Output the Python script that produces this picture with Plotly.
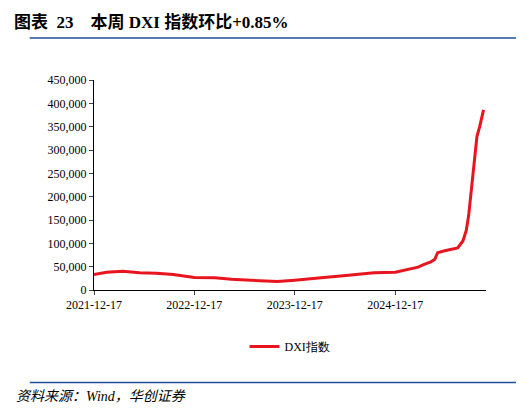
import plotly.graph_objects as go

dates = ["2021-12-17", "2022-02-01", "2022-04-01", "2022-06-01", "2022-08-01", "2022-10-01",
         "2022-12-17", "2023-03-01", "2023-05-01", "2023-07-01", "2023-09-01", "2023-10-15",
         "2023-12-17", "2024-02-01", "2024-04-01", "2024-06-01", "2024-08-01", "2024-10-01",
         "2024-12-17", "2025-01-20", "2025-02-20", "2025-03-10", "2025-04-01", "2025-04-25",
         "2025-05-10", "2025-05-20", "2025-06-15", "2025-07-10", "2025-08-01", "2025-08-20",
         "2025-09-01", "2025-09-10", "2025-09-20", "2025-10-01", "2025-10-10", "2025-10-20",
         "2025-10-28", "2025-11-03"]
dxi = [33000, 38000, 40000, 37000, 36000, 33000,
       27000, 26000, 23000, 21000, 19000, 18000,
       21000, 24000, 27000, 30000, 34000, 37000,
       38000, 42000, 46000, 49000, 55000, 60000,
       66000, 80000, 84000, 88000, 90000, 105000,
       127000, 160000, 215000, 276000, 329000, 350000,
       375000, 386000]

fig = go.Figure()
fig.add_trace(go.Scatter(x=dates, y=dxi, mode="lines", name="DXI指数",
                         line=dict(color="#e8141e", width=3)))

fig.update_layout(
    width=524, height=419, paper_bgcolor="white", plot_bgcolor="white",
    margin=dict(l=86, r=46, t=72, b=137),
    font=dict(family="Times New Roman, Liberation Serif, serif", size=12, color="black"),
    showlegend=True,
    legend=dict(orientation="h", x=0.5, xanchor="center", y=-0.2, yanchor="top",
                font=dict(size=12)),
    xaxis=dict(type="date", range=["2021-12-17", "2025-11-12"],
               tickvals=["2021-12-17", "2022-12-17", "2023-12-17", "2024-12-17"],
               ticktext=["2021-12-17", "2022-12-17", "2023-12-17", "2024-12-17"],
               showline=True, linecolor="black", ticks="outside", ticklen=4,
               showgrid=False),
    yaxis=dict(range=[0, 450000], dtick=50000, tickformat=",", showgrid=False,
               showline=True, linecolor="black", ticks="outside", ticklen=4),
)
fig.add_annotation(text="<b>图表  23    本周 DXI 指数环比+0.85%</b>", xref="paper", yref="paper",
                   x=0, y=1, xanchor="left", yanchor="top", showarrow=False,
                   font=dict(size=17, family="Liberation Serif, Noto Sans CJK SC"),
                   xshift=-82, yshift=69)
fig.add_shape(type="line", xref="paper", yref="paper", x0=-0.164, x1=1.09, y0=1.2, y1=1.2,
              line=dict(color="#1f4e9c", width=1.5))
fig.add_shape(type="line", xref="paper", yref="paper", x0=-0.164, x1=1.09, y0=-0.44, y1=-0.44,
              line=dict(color="#1f4e9c", width=1.5))
fig.add_annotation(text="<i>资料来源：Wind，华创证券</i>", xref="paper", yref="paper",
                   x=0, y=-0.46, xanchor="left", yanchor="top", showarrow=False,
                   font=dict(size=14, family="Liberation Serif, Noto Sans CJK SC"), xshift=-80)
fig.write_html("out.html")
